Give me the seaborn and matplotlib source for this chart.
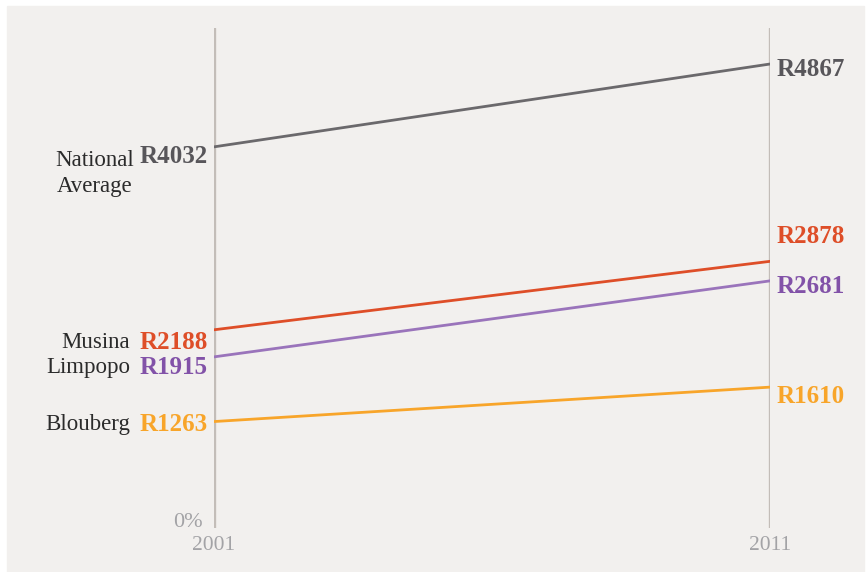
import pandas as pd
import seaborn as sns
import matplotlib.pyplot as plt
from matplotlib.patches import Rectangle

years = [2001, 2011]
regions = ["National\nAverage", "Musina", "Limpopo", "Blouberg"]
income_2001 = [4032, 2188, 1915, 1263]
income_2011 = [4867, 2878, 2681, 1610]
line_colors = ["#6b696c", "#de4e28", "#9a74bb", "#f8a52a"]
label_colors = ["#58565a", "#de4e28", "#8252a8", "#f8a52a"]
# small vertical nudges (pixels) so labels don't collide
left_dy = [-10, -13, -11, -3]
right_dy = [-5, 25, -6, -9]

rows = []
for name, a, b in zip(regions, income_2001, income_2011):
    rows.append({"region": name, "year": years[0], "income": a})
    rows.append({"region": name, "year": years[1], "income": b})
df = pd.DataFrame(rows)

sns.set_style("white")
plt.rcParams["font.family"] = ["Liberation Serif", "DejaVu Serif"]

bg = "#f2f0ee"
fig = plt.figure(figsize=(8.66, 5.72), dpi=100, facecolor="white")
fig.patches.append(Rectangle((7 / 866, 0), 857 / 866, 566 / 572,
                             transform=fig.transFigure, color=bg, zorder=-5))
ax = fig.add_axes([214 / 866, 44 / 572, 556 / 866, 500 / 572])
ax.set_facecolor("none")

for x in years:
    ax.axvline(x, color="#c3bdb8", lw=2.4, zorder=1)

sns.lineplot(data=df, x="year", y="income", hue="region", hue_order=regions,
             palette=line_colors, lw=2, legend=False, ax=ax, zorder=2)

ax.set_xlim(years[0], years[1])
ax.set_ylim(190, 5230)
ax.axis("off")

px = 0.72  # pixels -> points at dpi 100
for i, name in enumerate(regions):
    ax.annotate(f"R{income_2001[i]}", (years[0], income_2001[i]),
                xytext=(-6 * px, left_dy[i] * px), textcoords="offset points",
                ha="right", va="center", fontsize=18, fontweight="bold",
                color=label_colors[i])
    if "\n" in name:
        ax.annotate(name, (years[0], income_2001[i]),
                    xytext=(-80 * px, (left_dy[i] + 7) * px), textcoords="offset points",
                    ha="right", va="top", fontsize=16.5, color="#2b2b2b",
                    multialignment="center", linespacing=1.3)
    else:
        ax.annotate(name, (years[0], income_2001[i]),
                    xytext=(-84 * px, left_dy[i] * px), textcoords="offset points",
                    ha="right", va="center", fontsize=16.5, color="#2b2b2b")
    ax.annotate(f"R{income_2011[i]}", (years[1], income_2011[i]),
                xytext=(7 * px, right_dy[i] * px), textcoords="offset points",
                ha="left", va="center", fontsize=18, fontweight="bold",
                color=label_colors[i])

ax.annotate("0%", (years[0], 190), xytext=(-11 * px, -4 * px), textcoords="offset points",
            ha="right", va="bottom", fontsize=16, color="#a3a3a6")
for x in years:
    ax.annotate(str(x), (x, 190), xytext=(0, -8 * px), textcoords="offset points",
                ha="center", va="top", fontsize=15.5, color="#a3a3a6")

fig.savefig("out.png", dpi=100, facecolor="white")
